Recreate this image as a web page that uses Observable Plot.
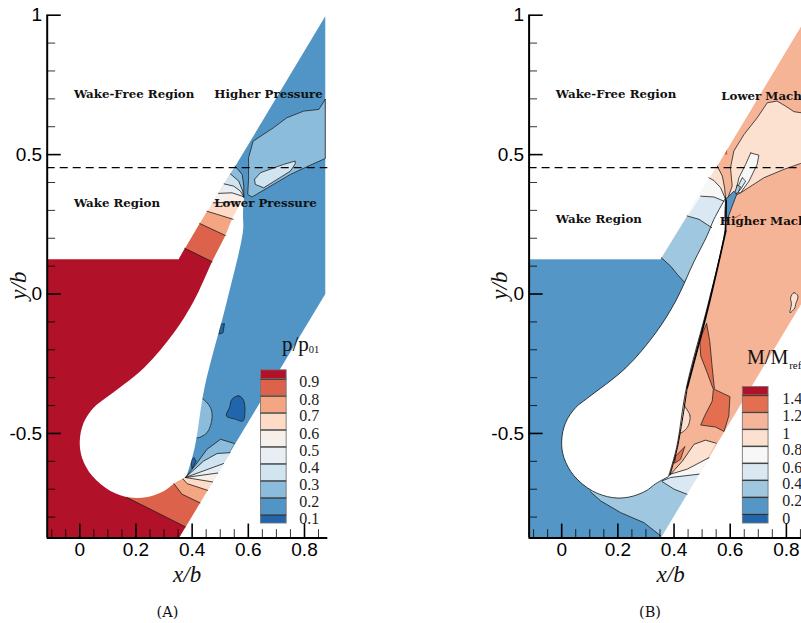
<!DOCTYPE html>
<html><head><meta charset="utf-8">
<script src="https://cdn.jsdelivr.net/npm/d3@7"></script>
<script src="https://cdn.jsdelivr.net/npm/@observablehq/plot@0.6"></script>
<style>
html,body{margin:0;padding:0;background:#fff;overflow:hidden;width:801px;height:623px}
#a,#b{position:absolute;top:0}
#a{left:0}#b{left:480px}
.cap{position:absolute;top:604px;font:14.5px "DejaVu Serif",serif;color:#111;transform:translateX(-50%)}
</style></head><body>
<div id="a"></div><div id="b"></div>
<div class="cap" style="left:167.5px">(A)</div>
<div class="cap" style="left:650px">(B)</div>
<script>
const xDomain=[-0.116,0.883], yDomain=[-0.875,1];
const xMajor=[0,0.2,0.4,0.6,0.8];
const xMinor=[-0.1,-0.05,0.05,0.1,0.15,0.25,0.3,0.35,0.45,0.5,0.55,0.65,0.7,0.75,0.85];
const yMajor=[-0.5,0,0.5,1];
const yMinor=[-0.8,-0.7,-0.6,-0.4,-0.3,-0.2,-0.1,0.1,0.2,0.3,0.4,0.6,0.7,0.8,0.9];
const wakeLine=0.453;

const passage=[[-0.116,0.124],[0.352,0.124],[0.554,0.459],[0.874,0.996],[0.874,0],[0.554,-0.536],[0.352,-0.876],[-0.116,-0.876]];
const bottomRun=[[0.352,-0.876],[-0.116,-0.876],[-0.116,0.124],[0.352,0.124]];
const spine=[[0.55,0.2],[0.45,-0.1],[0.3,-0.4]];
const tail=[0.38,-0.655];
const blade=[[0.584,0.345],[0.542,0.268],[0.518,0.21],[0.471,0.116],[0.406,-0.025],[0.335,-0.139],[0.229,-0.264],[0.091,-0.374],[0.05,-0.407],[0.014,-0.461],[0,-0.527],[0.008,-0.587],[0.044,-0.652],[0.109,-0.706],[0.18,-0.73],[0.241,-0.728],[0.3,-0.706],[0.335,-0.68],[0.38,-0.655],[0.38,-0.655],[0.409,-0.551],[0.444,-0.336],[0.524,-0.025],[0.581,0.226],[0.581,0.286],[0.584,0.345]];
const bladeFaceUpper=[[0.584,0.226],[0.527,-0.025],[0.447,-0.336]];
const bladeFaceLower=[[0.447,-0.336],[0.412,-0.551],[0.385,-0.65]];
const bladeFaceTip=[[0.586,0.335],[0.584,0.226]];

// Panel A: pressure
const pColors=["#8cbcdb","#d1e5f0","#e8eef4","#f7efea","#fddbc7","#f4a582","#dc624c","#b2112a"];
const pBase="#5095c5";
const pUpper=[
 [[0.553,0.459],[0.578,0.429],[0.584,0.387],[0.584,0.348]],
 [[0.536,0.431],[0.566,0.405],[0.58,0.369],[0.584,0.348]],
 [[0.514,0.395],[0.548,0.387],[0.572,0.369],[0.584,0.348]],
 [[0.494,0.361],[0.542,0.363],[0.575,0.352],[0.584,0.348]],
 [[0.475,0.327],[0.572,0.331]],
 [[0.453,0.297],[0.546,0.268]],
 [[0.427,0.253],[0.518,0.21]],
 [[0.374,0.164],[0.471,0.116]]];
const pLower=[
 [[0.376,-0.658],[0.418,-0.605],[0.453,-0.557],[0.501,-0.521],[0.55,-0.536]],
 [[0.376,-0.658],[0.441,-0.599],[0.489,-0.572],[0.535,-0.569]],
 [[0.376,-0.658],[0.512,-0.608]],
 [[0.376,-0.658],[0.491,-0.642]],
 [[0.376,-0.658],[0.473,-0.674]],
 [[0.368,-0.664],[0.382,-0.68],[0.455,-0.704]],
 [[0.335,-0.68],[0.364,-0.718],[0.428,-0.749]],
 [[0.168,-0.73],[0.24,-0.766],[0.311,-0.802],[0.376,-0.835]]];
const pIslands=[
 {fill:"#8cbcdb",pts:[[0.874,0.698],[0.851,0.662],[0.797,0.656],[0.737,0.632],[0.689,0.596],[0.617,0.548],[0.601,0.489],[0.601,0.417],[0.598,0.357],[0.613,0.348],[0.75,0.429],[0.827,0.465],[0.874,0.486]]},
 {fill:"#d1e5f0",pts:[[0.622,0.411],[0.643,0.435],[0.726,0.465],[0.767,0.477],[0.767,0.467],[0.75,0.441],[0.655,0.381],[0.625,0.393]]},
 {fill:"#2166ac",round:true,pts:[[0.542,-0.377],[0.566,-0.365],[0.584,-0.383],[0.581,-0.455],[0.554,-0.449],[0.522,-0.437],[0.533,-0.407]]},
 {fill:"#2166ac",pts:[[0.501,-0.109],[0.515,-0.106],[0.51,-0.139],[0.495,-0.144]]},
 {fill:"#8cbcdb",round:true,pts:[[0.425,-0.374],[0.435,-0.374],[0.465,-0.407],[0.471,-0.443],[0.453,-0.497],[0.412,-0.515],[0.4,-0.45]]},
 {fill:"#2166ac",pts:[[0.406,-0.587],[0.414,-0.599],[0.4,-0.628],[0.396,-0.6]]}];
const pLegendColors=["#b2112a","#dc624c","#f4a582","#fddbc7","#f7efea","#e8eef4","#d1e5f0","#8cbcdb","#5095c5","#2166ac"];
const pLegendEdges=[-0.2735,-0.3057,-0.3666,-0.4275,-0.4884,-0.5493,-0.6102,-0.6711,-0.732,-0.7929,-0.823];
const pLegendLabels=["0.9","0.8","0.7","0.6","0.5","0.4","0.3","0.2","0.1"];
const pLegendLabelY=[-0.315,-0.379,-0.438,-0.502,-0.563,-0.624,-0.684,-0.746,-0.806];
const pNotes=[
 {t:"Wake-Free Region",x:-0.021,y:0.716},{t:"Higher Pressure",x:0.479,y:0.716},
 {t:"Wake Region",x:-0.021,y:0.325},{t:"Lower Pressure",x:0.479,y:0.325}];

// Panel B: Mach number
const mColors=["#fce0d0","#f7f7f7","#d9e8f2","#9fc8e0","#5496c6"];
const mBase="#f6b497";
const mUpper=[
 [[0.554,0.459],[0.572,0.423],[0.58,0.381],[0.584,0.339]],
 [[0.524,0.417],[0.542,0.407],[0.566,0.381],[0.584,0.339]],
 [[0.495,0.351],[0.542,0.348],[0.578,0.333]],
 [[0.447,0.28],[0.489,0.268],[0.534,0.238]],
 [[0.355,0.13],[0.388,0.1],[0.412,0.07],[0.435,0.044]]];
const mLower=[
 [[0.388,-0.646],[0.43,-0.599],[0.471,-0.539],[0.512,-0.524],[0.55,-0.535]],
 [[0.388,-0.646],[0.447,-0.628],[0.5245,-0.587]],
 [[0.358,-0.67],[0.388,-0.658],[0.489,-0.646]],
 [[0.358,-0.673],[0.4,-0.7],[0.446,-0.718]],
 [[0.103,-0.71],[0.139,-0.742],[0.21,-0.784],[0.293,-0.82],[0.352,-0.867]]];
const mIslands=[
 {fill:"#fce0d0",pts:[[0.874,0.66],[0.854,0.65],[0.827,0.654],[0.797,0.674],[0.767,0.692],[0.732,0.686],[0.696,0.632],[0.649,0.572],[0.613,0.513],[0.601,0.453],[0.607,0.387],[0.59,0.34],[0.637,0.363],[0.72,0.417],[0.791,0.447],[0.85,0.468],[0.874,0.48]]},
 {fill:"#f7f7f7",pts:[[0.673,0.506],[0.702,0.498],[0.696,0.465],[0.667,0.405],[0.637,0.363],[0.619,0.363],[0.631,0.417],[0.655,0.465]]},
 {fill:"#d9e8f2",pts:[[0.643,0.417],[0.655,0.405],[0.637,0.375],[0.613,0.351],[0.625,0.381]]},
 {fill:"#9fc8e0",pts:[[0.625,0.39],[0.637,0.385],[0.628,0.363],[0.615,0.36]]},
 {fill:"#5496c6",pts:[[0.584,0.339],[0.613,0.369],[0.623,0.357],[0.607,0.315],[0.59,0.268],[0.584,0.27]]},
 {fill:"#e36f50",pts:[[0.516,-0.106],[0.527,-0.168],[0.536,-0.264],[0.544,-0.342],[0.599,-0.368],[0.595,-0.437],[0.578,-0.493],[0.548,-0.477],[0.495,-0.47],[0.509,-0.437],[0.536,-0.384],[0.54,-0.342],[0.518,-0.282],[0.495,-0.222],[0.492,-0.174],[0.5,-0.144]]},
 {fill:"#fce0d0",round:true,pts:[[0.441,-0.407],[0.457,-0.437],[0.447,-0.479],[0.418,-0.499],[0.41,-0.45],[0.43,-0.39]]},
 {fill:"#e36f50",pts:[[0.438,-0.548],[0.423,-0.593],[0.402,-0.607],[0.406,-0.581]]},
 {fill:"#fce0d0",round:true,pts:[[0.815,-0.013],[0.827,0.005],[0.841,-0.007],[0.833,-0.037],[0.83,-0.05],[0.813,-0.067],[0.818,-0.035]]}];
const mSpecks=[[[0.58,0.5],[0.589,0.518],[0.589,0.5]]];
const mLegendColors=["#b2112a","#e36f50","#f6b598","#fce0d0","#f7f7f7","#d9e8f2","#9fc8e0","#5496c6","#2166ac"];
const mLegendEdges=[-0.3333,-0.3645,-0.4254,-0.4863,-0.5472,-0.6081,-0.669,-0.7299,-0.7908,-0.823];
const mLegendLabels=["1.4","1.2","1","0.8","0.6","0.4","0.2","0"];
const mLegendLabelY=[-0.375,-0.438,-0.5,-0.56,-0.622,-0.68,-0.742,-0.806];
const mNotes=[
 {t:"Wake-Free Region",x:-0.021,y:0.716},{t:"Lower Mach",x:0.568,y:0.71},
 {t:"Wake Region",x:-0.021,y:0.269},{t:"Higher Mach",x:0.563,y:0.262}];

const sans='"Liberation Sans",Arial,sans-serif', serif='"Liberation Serif",serif', noteFont='"DejaVu Serif",serif';
const px=d=>d[0], py=d=>d[1];
const poly=(pts,fill,stroke="none",sw=0.7,curve="linear")=>Plot.line([...pts,pts[0]],{x:px,y:py,fill,stroke,strokeWidth:sw,curve});
const curve=(pts,c="#1a1a1a",sw=0.8)=>Plot.line(pts,{x:px,y:py,stroke:c,strokeWidth:sw,curve:"linear"});
const smooth=(pts,c,sw,fill="none")=>Plot.line(pts,{x:px,y:py,stroke:c,strokeWidth:sw,fill,curve:"catmull-rom"});

function panel(o){
  const levels=o.colors.map((fill,i)=>{
    const last=i===o.colors.length-1;
    return poly([...o.upper[i],...spine,...(last?[]:[tail]),...o.lower[i],...bottomRun],fill);
  });
  const marks=[
    poly(passage,o.base),
    ...levels,
    ...o.islands.map(s=>s.round
      ? Plot.line(s.pts,{x:px,y:py,fill:s.fill,stroke:"#222",strokeWidth:0.8,curve:"catmull-rom-closed"})
      : poly(s.pts,s.fill,"#222",0.8)),
    ...(o.specks||[]).map(s=>poly(s,"#d8553a")),
    smooth(blade,"none",0,"white"),
    ...o.upper.map(c=>curve(c)),
    ...o.lower.map(c=>curve(c)),
    ...(o.bladeLine?[
      smooth(blade,"#111",0.8),
      smooth(bladeFaceUpper,"#000",1.7),
      smooth(bladeFaceLower,"#000",1),
      curve(bladeFaceTip,"#000",1.4),
      curve([[0.607,0.268],[0.637,0.285]],"#c0503a",0.9)]:[]),
    // legend
    Plot.rect(o.legendColors,{x1:0.645,x2:0.7365,y1:(d,i)=>o.legendEdges[i],y2:(d,i)=>o.legendEdges[i+1],fill:d=>d,stroke:"#777",strokeWidth:0.9}),
    Plot.ruleY(o.legendEdges.slice(1,-1),{x1:0.645,x2:0.7365,stroke:"#222",strokeWidth:0.8}),
    Plot.text(o.legendLabels,{x:o.labelX,y:(d,i)=>o.labelY[i],text:d=>d,textAnchor:"start",fontSize:16,fontFamily:serif,fill:"#222"}),
    Plot.text([o.titleMain],{x:o.titleX,y:o.titleY,text:d=>d,textAnchor:"start",lineAnchor:"bottom",fontSize:o.titleSize,fontFamily:serif,fill:"#111"}),
    Plot.text([o.titleSub],{x:o.subX,y:o.subY,text:d=>d,textAnchor:"start",lineAnchor:"bottom",fontSize:o.subSize,fontFamily:serif,fill:"#111"}),
    // wake line
    Plot.ruleY([wakeLine],{x1:xDomain[0],x2:xDomain[1],stroke:"#000",strokeWidth:1.3,strokeDasharray:"8,5"}),
    // annotations
    Plot.text(o.notes,{x:"x",y:"y",text:"t",textAnchor:"start",fontSize:11.8,fontWeight:"bold",fontFamily:noteFont,fill:"#111"}),
    // ticks
    Plot.ruleX(xMinor,{y1:yDomain[0],y2:yDomain[0]+0.03,stroke:"#000",strokeWidth:0.8}),
    Plot.ruleY(yMinor,{x1:xDomain[0],x2:xDomain[0]+0.03,stroke:"#000",strokeWidth:0.8}),
    Plot.ruleX(xMajor,{y1:yDomain[0],y2:yDomain[0]+0.05,stroke:"#000",strokeWidth:1.6}),
    Plot.ruleY(yMajor,{x1:xDomain[0],x2:xDomain[0]+0.05,stroke:"#000",strokeWidth:1.6}),
    Plot.ruleY([yDomain[0]],{x1:xDomain[0],x2:xDomain[1],stroke:"#000",strokeWidth:2}),
    Plot.ruleX([xDomain[0]],{y1:yDomain[0],y2:yDomain[1],stroke:"#000",strokeWidth:2}),
    Plot.axisX(xMajor,{anchor:"bottom",tickSize:0,tickPadding:4,fontSize:19,fontFamily:sans,label:null,tickFormat:d=>String(d)}),
    Plot.axisY(yMajor,{anchor:"left",tickSize:0,tickPadding:5,fontSize:19,fontFamily:sans,label:null,tickFormat:d=>String(d)}),
    Plot.text(["x/b"],{x:o.xLabelX,y:yDomain[0],dy:37,text:d=>d,fontSize:23,fontStyle:"italic",fontFamily:serif,fill:"#111"}),
    Plot.text(["y/b"],{x:xDomain[0],y:0.03,dx:-29,rotate:-90,text:d=>d,fontSize:23,fontStyle:"italic",fontFamily:serif,fill:"#111"})
  ];
  return Plot.plot({
    width:o.width,height:623,marginTop:14.7,marginBottom:85.5,marginLeft:o.left,marginRight:o.width-o.left-280.6,
    x:{domain:xDomain,range:[o.left,o.left+280.6]},y:{domain:yDomain},
    style:{background:"transparent",overflow:"visible"},
    marks
  });
}
document.getElementById("a").append(panel({
  width:480,left:46.7,base:pBase,colors:pColors,upper:pUpper,lower:pLower,islands:pIslands,
  legendColors:pLegendColors,legendEdges:pLegendEdges,legendLabels:pLegendLabels,labelX:0.781,labelY:pLegendLabelY,
  titleMain:"p/p",titleX:0.72,titleY:-0.205,titleSize:21,titleSub:"01",subX:0.815,subY:-0.21,subSize:10.5,
  notes:pNotes,xLabelX:0.382
}));
document.getElementById("b").append(panel({
  width:321,left:48.6,base:mBase,colors:mColors,upper:mUpper,lower:mLower,islands:mIslands,specks:mSpecks,bladeLine:true,
  legendColors:mLegendColors,legendEdges:mLegendEdges,legendLabels:mLegendLabels,labelX:0.785,labelY:mLegendLabelY,
  titleMain:"M/M",titleX:0.66,titleY:-0.25,titleSize:20,titleSub:"ref",subX:0.81,subY:-0.27,subSize:11,
  notes:mNotes,xLabelX:0.388
}));
</script>
</body></html>
